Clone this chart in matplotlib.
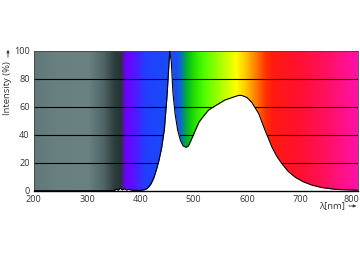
import numpy as np
import matplotlib
matplotlib.use("Agg")
import matplotlib.pyplot as plt
import matplotlib.transforms as mtransforms
from matplotlib.colors import LinearSegmentedColormap
from matplotlib.patches import FancyArrowPatch

# ------------------ data ------------------
wavelength = [200, 300, 350, 355, 358, 362, 366, 370, 374, 378, 384, 390, 400, 405,
              410, 415, 420, 425, 430, 435, 440, 445, 450, 455, 458, 461, 465, 470,
              475, 480, 486, 490, 495, 503, 510, 520, 528, 540, 559, 572, 584, 590,
              600, 609, 622, 634, 647, 656, 666, 678, 691, 705, 722, 740, 766, 785,
              800, 808]
intensity = [0, 0, 0, 1.2, 0.4, 1.8, 0.6, 1.4, 0.5, 1.0, 0.4, 0.3, 0.3, 0.5,
             1.0, 2.5, 5, 9, 15, 22, 31, 44, 68, 100, 92, 70, 55, 43,
             36, 32, 31, 32, 36, 43, 49, 54, 57.6, 60.5, 64.8, 66.5, 68, 68,
             66.5, 63, 55, 43, 31, 24.5, 19, 13.5, 9.5, 6.5, 4, 2.3, 1.0, 0.7,
             0.5, 0.4]

# spectrum background colour stops (wavelength, colour)
bg_wl = [200, 240, 300, 330, 350, 362, 372, 385, 410, 470, 477, 486, 500, 520,
         550, 580, 600, 615, 635, 650, 700, 750, 808]
bg_col = ["#607878", "#688080", "#6a8282", "#506666", "#2e3e3e", "#263434",
          "#7000ff", "#5a10ff", "#2040ff", "#1850f0", "#0878b0", "#00b030",
          "#20e000", "#50ff00", "#a8ff00", "#ffff00", "#ffc000", "#ff8400",
          "#ff3400", "#ff1a10", "#ff1030", "#ff1060", "#ff10a8"]

yticks = [0, 20, 40, 60, 80, 100]
xticks = [200, 300, 400, 500, 600, 700, 800]
XMIN, XMAX = 200, 808

plt.rcParams['font.family'] = ['Open Sans', 'DejaVu Sans']

fig = plt.figure(figsize=(3.6, 2.62), dpi=100)
ax = fig.add_axes([0.094, 0.272, 0.9, 0.535])

# gradient background
pos = [(w - XMIN) / (XMAX - XMIN) for w in bg_wl]
cmap = LinearSegmentedColormap.from_list("spec", list(zip(pos, bg_col)))
grad = np.linspace(0, 1, 800).reshape(1, -1)
ax.imshow(grad, extent=[XMIN, XMAX, 0, 100], aspect="auto", cmap=cmap,
          origin="lower", zorder=0, interpolation="bilinear")

# grid lines (covered by the white fill)
for y in yticks[1:-1]:
    ax.axhline(y, color="black", lw=0.8, zorder=1)

ax.fill_between(wavelength, intensity, 0, color="white", lw=0, zorder=2)
ax.plot(wavelength, intensity, color="black", lw=0.8, zorder=3)

ax.set_xlim(XMIN, XMAX)
ax.set_ylim(0, 100)
ax.set_xticks(xticks)
ax.set_yticks(yticks)
ax.tick_params(length=0, labelsize=6.6, colors="#333333", pad=3)
for side in ["top", "right", "left"]:
    ax.spines[side].set_color("#444444")
    ax.spines[side].set_linewidth(0.6)
ax.spines["bottom"].set_color("black")
ax.spines["bottom"].set_linewidth(1.0)

# keep the "800" label inside the figure
last = ax.get_xticklabels()[-1]
last.set_transform(last.get_transform() +
                   mtransforms.ScaledTranslation(-2.5 / 100, 0, fig.dpi_scale_trans))

# axis titles with arrows (pixel coords, 262 px tall figure)
fig.text(8 / 360, (262 - 61) / 262, "Intensity (%)", rotation=90, fontsize=6.8,
         color="#333333", ha="center", va="top")
fig.add_artist(FancyArrowPatch((8, 262 - 60), (8, 262 - 47), transform=None,
                               arrowstyle="-|>", mutation_scale=4, lw=0.6,
                               color="#333333"))
fig.text(345 / 360, (262 - 206) / 262, "λ[nm]", fontsize=6.8, color="#333333",
         ha="right", va="center")
fig.add_artist(FancyArrowPatch((346, 262 - 206), (359, 262 - 206), transform=None,
                               arrowstyle="-|>", mutation_scale=4, lw=0.6,
                               color="#333333"))

plt.savefig("out.png", dpi=100)
